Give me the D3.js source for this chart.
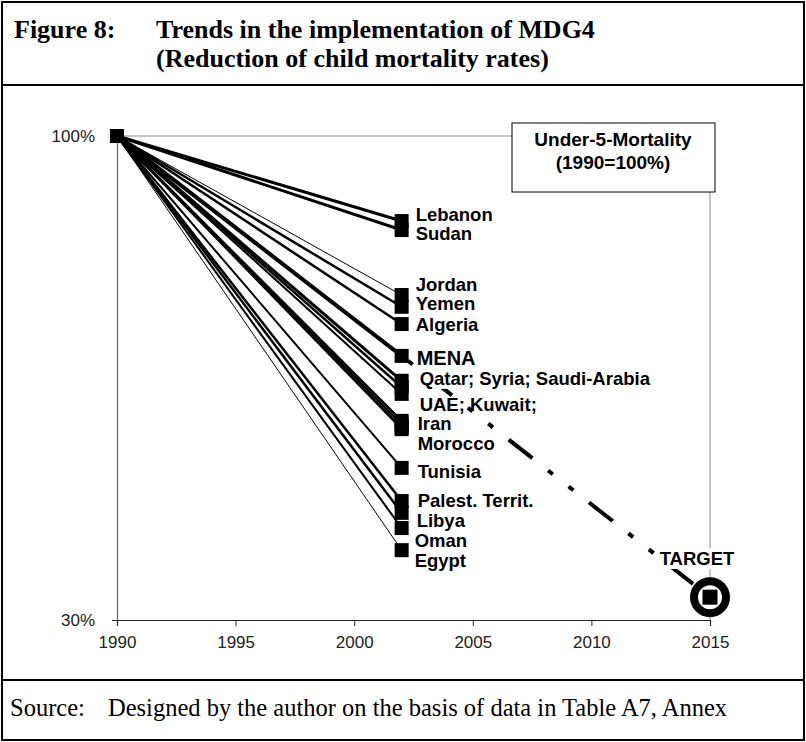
<!DOCTYPE html>
<html><head><meta charset="utf-8">
<script src="https://cdn.jsdelivr.net/npm/d3@7"></script>
<style>
body{margin:0;background:#fff}
svg{display:block}
</style>
</head><body>
<svg id="chart" width="806" height="742"></svg>
<script>
// Under-5 mortality in 2002, as a percentage of the 1990 level
const countries = ["Lebanon","Sudan","Jordan","Yemen","Algeria","MENA","Qatar","Syria","Saudi-Arabia",
  "UAE","Kuwait","Iran","Morocco","Tunisia","Palest. Territ.","Libya","Oman","Egypt"];
const u5mr2002 = [87.7,86.4,77.0,75.3,72.8,68.2,64.6,63.7,62.7,58.8,58.3,57.9,57.6,52.0,47.2,45.5,43.3,40.1];
const startYear = 1990, obsYear = 2002, targetYear = 2015;
const startValue = 100;
const targetValue = 33.3;          // MDG4: cut the 1990 rate by two thirds
const regionName = "MENA";
const yearTicks = [1990,1995,2000,2005,2010,2015];
const valueTicks = [30,100];
const labelRows = ["Lebanon","Sudan","Jordan","Yemen","Algeria","MENA","Qatar; Syria; Saudi-Arabia",
  "UAE; Kuwait;","Iran","Morocco","Tunisia","Palest. Territ.","Libya","Oman","Egypt"];

// presentation settings
const lineWeights = [3,3,1,2.5,2.5,4,3,2.5,2,2.5,2,2,2,2,2.5,2.5,2,1];
const labelBaselines = [221,240,291,310,331,365,385,411,430,450,478,507,527,547,567];
const labelDx = [14,14,14,14,14,15,18,18,16,16,16,16,15,13,13];

const svg = d3.select("#chart");
const x = d3.scaleLinear().domain([1990,2015]).range([117,710]);
const y = d3.scaleLinear().domain([30,100]).range([620,136]);

const serif = "'Liberation Serif','Times New Roman',serif";
const sans = "'Liberation Sans',Arial,sans-serif";

// frame and panel dividers
svg.append("rect").attr("x",2).attr("y",2).attr("width",802).attr("height",738)
  .attr("fill","none").attr("stroke","#000").attr("stroke-width",2);
svg.append("line").attr("x1",2).attr("x2",804).attr("y1",85).attr("y2",85).attr("stroke","#000").attr("stroke-width",2);
svg.append("line").attr("x1",2).attr("x2",804).attr("y1",680).attr("y2",680).attr("stroke","#000").attr("stroke-width",2);

// title
const title = svg.append("g").attr("font-family",serif).attr("font-weight","bold").attr("font-size",26).attr("fill","#000");
title.append("text").attr("x",14).attr("y",38).text("Figure 8:");
title.append("text").attr("x",156).attr("y",38).text("Trends in the implementation of MDG4");
title.append("text").attr("x",156).attr("y",67).text("(Reduction of child mortality rates)");

// source line
const src = svg.append("g").attr("font-family",serif).attr("font-size",24.5).attr("fill","#000");
src.append("text").attr("x",10).attr("y",716).text("Source:");
src.append("text").attr("x",108).attr("y",716).text("Designed by the author on the basis of data in Table A7, Annex");

// plot area border (top and right)
svg.append("path")
  .attr("d",`M${x(1990)},${y(100)}H${x(2015)}V${y(30)}`)
  .attr("fill","none").attr("stroke","#8a8a8a").attr("stroke-width",1);

// axes
const xAxis = d3.axisBottom(x).tickValues(yearTicks).tickFormat(d3.format("d")).tickSize(6).tickPadding(10);
const gx = svg.append("g").attr("transform",`translate(0,${y(30)})`).call(xAxis);
gx.select(".domain").attr("stroke","#222").attr("stroke-width",1.2);
gx.selectAll(".tick line").attr("stroke","#222");
gx.selectAll("text").attr("font-family",sans).attr("font-size",17).attr("fill","#222");

const yAxis = d3.axisLeft(y).tickValues(valueTicks).tickFormat(d=>d+"%").tickSize(5).tickPadding(17);
const gy = svg.append("g").attr("transform",`translate(${x(1990)},0)`).call(yAxis);
gy.select(".domain").attr("stroke","#666").attr("stroke-width",1.2);
gy.selectAll(".tick line").attr("stroke","#222").attr("x1",5).attr("x2",-5);
gy.selectAll("text").attr("font-family",sans).attr("font-size",17).attr("fill","#222");

// fan of trend lines 1990 -> 2002
const line = d3.line().x(d=>x(d[0])).y(d=>y(d[1]));
const series = countries.map((c,i)=>({name:c, pts:[[startYear,startValue],[obsYear,u5mr2002[i]]], w:lineWeights[i]}));
svg.append("g").selectAll("path").data(series).join("path")
  .attr("d",d=>line(d.pts)).attr("fill","none").attr("stroke","#000")
  .attr("stroke-width",d=>d.w);

// regional path from 2002 to the 2015 target (dashed)
const mena = u5mr2002[countries.indexOf(regionName)];
svg.append("path")
  .attr("d",line([[obsYear,mena],[targetYear,targetValue]]))
  .attr("fill","none").attr("stroke","#000").attr("stroke-width",4)
  .attr("stroke-dasharray","30,20,6,20,6,20").attr("stroke-dashoffset",68);

// markers
const ms = 14;
svg.append("g").selectAll("rect").data(u5mr2002).join("rect")
  .attr("x",x(obsYear)-ms/2).attr("y",d=>y(d)-ms/2).attr("width",ms).attr("height",ms).attr("fill","#000");
svg.append("rect").attr("x",x(startYear)-ms/2).attr("y",y(startValue)-ms/2)
  .attr("width",ms).attr("height",ms).attr("fill","#000");

// country labels
const lab = svg.append("g").attr("font-family",sans).attr("font-weight","bold").attr("fill","#000");
labelRows.forEach((t,i)=>{
  const tx = lab.append("text").attr("x",x(obsYear)+labelDx[i]).attr("y",labelBaselines[i])
    .attr("font-size", t===regionName ? 20 : 18.5).text(t);
  if (t.startsWith("Qatar")) {
    const bb = tx.node().getBBox();
    lab.insert("rect",()=>tx.node()).attr("x",bb.x-1).attr("y",bb.y+2).attr("width",bb.width+2)
      .attr("height",bb.height-2).attr("fill","#fff");
  }
});

// target marker
const tgx = x(targetYear), tgy = y(targetValue);
const tl = svg.append("text").attr("x",tgx-13).attr("y",565).attr("text-anchor","middle")
  .attr("font-family",sans).attr("font-weight","bold").attr("font-size",18.5)
  .text("TARGET");
const tb = tl.node().getBBox();
svg.insert("rect",()=>tl.node()).attr("x",tb.x-2).attr("y",tb.y).attr("width",tb.width+4)
  .attr("height",tb.height).attr("fill","#fff");
svg.append("circle").attr("cx",tgx).attr("cy",tgy).attr("r",16)
  .attr("fill","#fff").attr("stroke","#000").attr("stroke-width",8);
svg.append("rect").attr("x",tgx-7.5).attr("y",tgy-7.5).attr("width",15).attr("height",15).attr("fill","#000");

// legend box
const lg = svg.append("g");
lg.append("rect").attr("x",512).attr("y",123).attr("width",203).attr("height",69)
  .attr("fill","#fff").attr("stroke","#000").attr("stroke-width",1);
lg.append("text").attr("x",613).attr("y",146).attr("text-anchor","middle")
  .attr("font-family",sans).attr("font-weight","bold").attr("font-size",19).text("Under-5-Mortality");
lg.append("text").attr("x",613).attr("y",169).attr("text-anchor","middle")
  .attr("font-family",sans).attr("font-weight","bold").attr("font-size",19).text("(1990=100%)");
</script>
</body></html>
